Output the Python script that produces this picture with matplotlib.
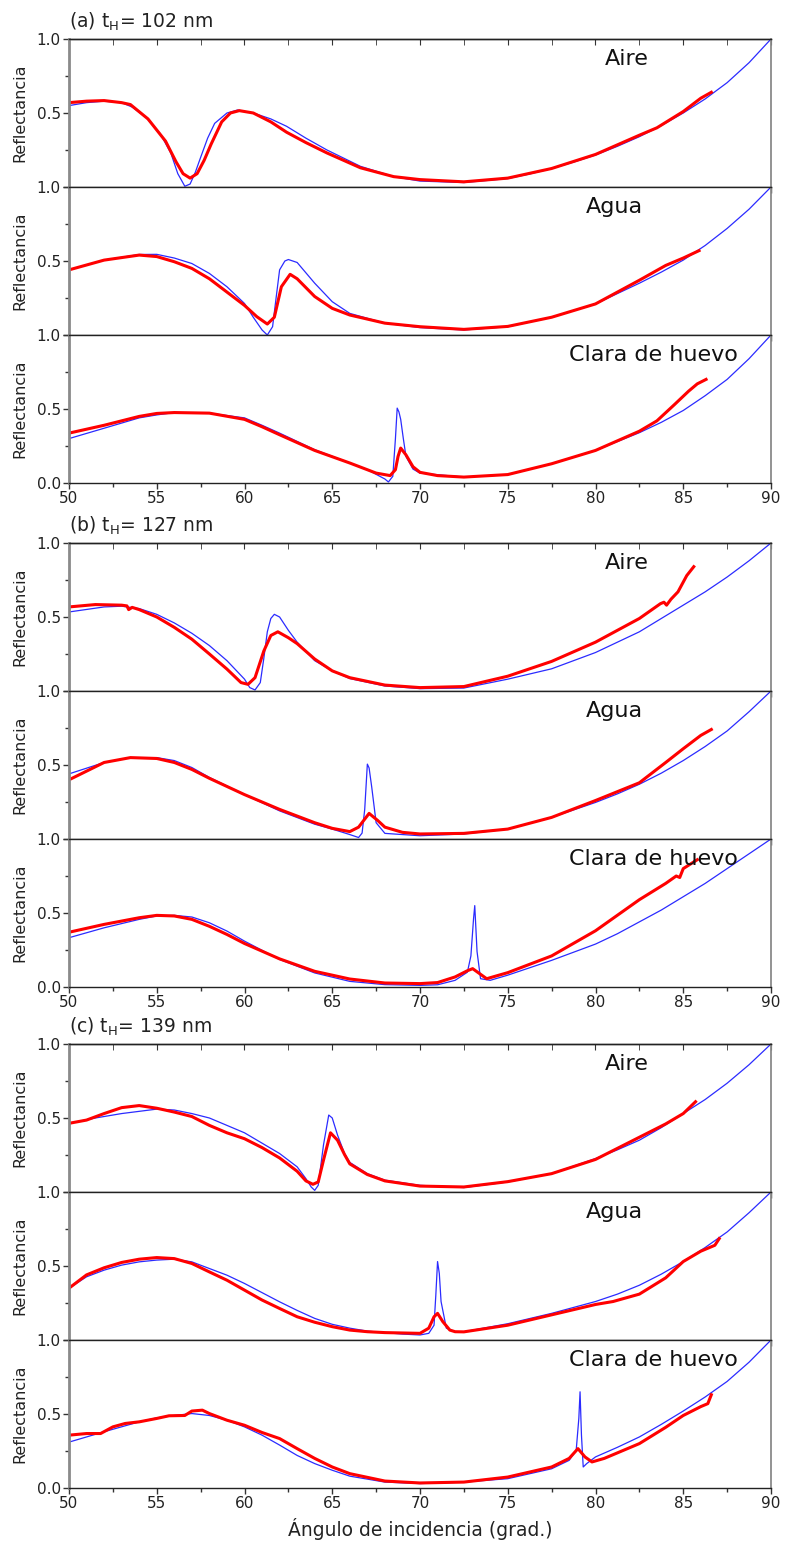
import numpy as np
import matplotlib
matplotlib.use('Agg')
from matplotlib import pyplot as plt

# ---- t_H = 102 nm ----
a_aire_teo_ang = [50, 51, 52, 53, 53.6, 54.4, 55.2, 55.8, 56.2, 56.6, 56.9, 57.2, 57.5, 57.9, 58.3, 59.0, 59.6, 60.5, 61.5, 62.4, 63.5, 64.7, 66.6, 68.5, 70, 72.5, 75, 76.25, 77.5, 78.75, 80, 81.25, 82.5, 83.75, 85, 86.25, 87.5, 88.75, 90]
a_aire_teo_R = [0.55, 0.57, 0.58, 0.57, 0.54, 0.47, 0.36, 0.23, 0.09, 0.005, 0.02, 0.1, 0.2, 0.33, 0.43, 0.5, 0.52, 0.5, 0.46, 0.41, 0.33, 0.25, 0.14, 0.07, 0.04, 0.03, 0.057, 0.088, 0.125, 0.168, 0.216, 0.275, 0.34, 0.415, 0.5, 0.595, 0.705, 0.84, 1.0]
a_aire_exp_ang = [50, 51, 52, 53, 53.5, 54.5, 55.5, 56.1, 56.5, 56.9, 57.3, 57.7, 58.1, 58.7, 59.2, 59.7, 60.5, 61.5, 62.4, 63.5, 64.7, 66.6, 68.5, 70, 72.5, 75, 77.5, 80, 82.5, 83.5, 85, 86, 86.6]
a_aire_exp_R = [0.57, 0.58, 0.584, 0.57, 0.557, 0.46, 0.31, 0.17, 0.09, 0.06, 0.09, 0.18, 0.29, 0.44, 0.5, 0.516, 0.5, 0.44, 0.37, 0.3, 0.23, 0.13, 0.07, 0.05, 0.035, 0.06, 0.125, 0.22, 0.35, 0.4, 0.51, 0.6, 0.64]

a_agua_teo_ang = [50, 52, 54, 55, 56, 57, 58, 59, 60, 60.5, 61, 61.3, 61.6, 61.8, 62, 62.3, 62.5, 63, 64, 65, 66, 68, 70, 72.5, 75, 77.5, 80, 82.5, 83.75, 85, 86.25, 87.5, 88.75, 90]
a_agua_teo_R = [0.44, 0.506, 0.544, 0.545, 0.52, 0.483, 0.416, 0.326, 0.213, 0.12, 0.034, 0.0, 0.056, 0.25, 0.44, 0.5, 0.51, 0.49, 0.35, 0.225, 0.146, 0.08, 0.05, 0.034, 0.056, 0.12, 0.21, 0.35, 0.425, 0.506, 0.605, 0.72, 0.85, 1.0]
a_agua_exp_ang = [50, 52, 54, 55, 56, 57, 58, 59, 60, 60.7, 61.3, 61.7, 62.1, 62.6, 63, 64, 65, 66, 68, 70, 72.5, 75, 77.5, 80, 82.5, 84, 85, 85.9]
a_agua_exp_R = [0.44, 0.506, 0.54, 0.53, 0.495, 0.45, 0.38, 0.29, 0.2, 0.124, 0.074, 0.12, 0.326, 0.41, 0.38, 0.26, 0.18, 0.135, 0.08, 0.056, 0.038, 0.058, 0.12, 0.21, 0.37, 0.47, 0.52, 0.57]

a_clara_teo_ang = [50, 52, 54, 55, 56, 58, 60, 61, 62, 64, 66, 67, 68, 68.2, 68.45, 68.6, 68.7, 68.8, 68.9, 69.05, 69.2, 69.6, 70, 71, 72.5, 75, 77.5, 80, 82.5, 83.75, 85, 86.25, 87.5, 88.75, 90]
a_clara_teo_R = [0.30, 0.37, 0.44, 0.46, 0.476, 0.472, 0.44, 0.39, 0.337, 0.225, 0.135, 0.09, 0.027, 0.007, 0.045, 0.3, 0.506, 0.48, 0.43, 0.3, 0.18, 0.094, 0.067, 0.056, 0.04, 0.056, 0.13, 0.22, 0.34, 0.41, 0.49, 0.59, 0.7, 0.84, 1.0]
a_clara_exp_ang = [50, 52, 54, 55, 56, 58, 60, 61, 62, 64, 66, 67.5, 68.3, 68.6, 68.75, 68.9, 69.2, 69.6, 70, 71, 72.5, 75, 77.5, 80, 82.5, 83.5, 84.5, 85.3, 85.8, 86.3]
a_clara_exp_R = [0.337, 0.39, 0.45, 0.47, 0.476, 0.472, 0.43, 0.38, 0.326, 0.22, 0.135, 0.067, 0.05, 0.09, 0.18, 0.236, 0.19, 0.11, 0.072, 0.05, 0.04, 0.057, 0.13, 0.22, 0.35, 0.42, 0.53, 0.62, 0.67, 0.7]

# ---- t_H = 127 nm ----
b_aire_teo_ang = [50, 52, 53, 54, 55, 56, 57, 58, 59, 60, 60.3, 60.6, 60.9, 61.1, 61.3, 61.5, 61.7, 62, 62.5, 63, 64, 65, 66, 68, 70, 72.5, 75, 77.5, 80, 81.25, 82.5, 83.75, 85, 86.25, 87.5, 88.75, 90]
b_aire_teo_R = [0.534, 0.568, 0.573, 0.557, 0.518, 0.46, 0.39, 0.307, 0.205, 0.08, 0.023, 0.007, 0.057, 0.22, 0.4, 0.49, 0.518, 0.5, 0.41, 0.33, 0.205, 0.136, 0.084, 0.034, 0.016, 0.02, 0.08, 0.15, 0.26, 0.33, 0.4, 0.49, 0.58, 0.67, 0.77, 0.88, 1.0]
b_aire_exp_ang = [50, 51.5, 53, 53.3, 53.4, 53.6, 54, 55, 56, 57, 58, 59, 59.8, 60.2, 60.6, 61.1, 61.5, 61.9, 62.5, 63, 64, 65, 66, 68, 70, 72.5, 75, 77.5, 80, 82.5, 83.7, 83.9, 84.05, 84.3, 84.7, 85.2, 85.6]
b_aire_exp_R = [0.568, 0.584, 0.58, 0.575, 0.55, 0.565, 0.55, 0.5, 0.43, 0.35, 0.25, 0.148, 0.057, 0.045, 0.09, 0.27, 0.375, 0.4, 0.36, 0.32, 0.216, 0.136, 0.09, 0.04, 0.023, 0.03, 0.1, 0.2, 0.33, 0.49, 0.59, 0.6, 0.58, 0.62, 0.67, 0.78, 0.84]

b_agua_teo_ang = [50, 52, 53.5, 55, 56, 57, 58, 60, 62, 64, 65, 66, 66.5, 66.7, 66.85, 67.0, 67.1, 67.25, 67.5, 68, 70, 72.5, 75, 77.5, 80, 81.25, 82.5, 83.75, 85, 86.25, 87.5, 88.75, 90]
b_agua_teo_R = [0.44, 0.517, 0.55, 0.55, 0.53, 0.483, 0.416, 0.3, 0.19, 0.1, 0.067, 0.03, 0.01, 0.04, 0.2, 0.506, 0.48, 0.35, 0.11, 0.038, 0.022, 0.034, 0.067, 0.146, 0.247, 0.305, 0.37, 0.445, 0.53, 0.625, 0.73, 0.86, 1.0]
b_agua_exp_ang = [50, 52, 53.5, 55, 56, 57, 58, 60, 62, 64, 65, 66, 66.5, 67.1, 67.6, 68, 69, 70, 72.5, 75, 77.5, 80, 82.5, 84, 85, 86, 86.6]
b_agua_exp_R = [0.4, 0.517, 0.55, 0.544, 0.517, 0.47, 0.41, 0.3, 0.2, 0.11, 0.072, 0.05, 0.08, 0.173, 0.124, 0.08, 0.045, 0.034, 0.038, 0.067, 0.146, 0.26, 0.38, 0.517, 0.61, 0.7, 0.74]

b_clara_teo_ang = [50, 52, 54, 55, 56, 57, 58, 59, 60, 62, 64, 66, 68, 70, 71, 72, 72.7, 72.9, 73.05, 73.12, 73.25, 73.45, 74, 75, 77.5, 80, 81.25, 82.5, 83.75, 85, 86.25, 87.5, 88.75, 90]
b_clara_teo_R = [0.333, 0.4, 0.457, 0.48, 0.484, 0.473, 0.434, 0.378, 0.31, 0.186, 0.095, 0.038, 0.016, 0.011, 0.015, 0.045, 0.1, 0.21, 0.46, 0.55, 0.24, 0.056, 0.045, 0.08, 0.18, 0.29, 0.36, 0.44, 0.52, 0.61, 0.7, 0.8, 0.9, 1.0]
b_clara_exp_ang = [50, 52, 54, 55, 56, 57, 58, 59, 60, 62, 64, 66, 68, 70, 71, 72, 72.7, 73, 73.4, 73.8, 74.5, 75, 77.5, 80, 82.5, 84, 84.6, 84.8, 85, 85.8]
b_clara_exp_R = [0.37, 0.423, 0.468, 0.484, 0.48, 0.457, 0.41, 0.355, 0.294, 0.19, 0.106, 0.054, 0.027, 0.023, 0.03, 0.068, 0.11, 0.124, 0.09, 0.056, 0.08, 0.097, 0.21, 0.38, 0.59, 0.7, 0.75, 0.74, 0.8, 0.86]

# ---- t_H = 139 nm ----
c_aire_teo_ang = [50, 51.5, 53, 55, 56, 57, 58, 59, 60, 61, 62, 63, 63.5, 63.8, 64.0, 64.2, 64.5, 64.8, 65, 65.3, 65.7, 66, 67, 68, 70, 72.5, 75, 77.5, 80, 81.25, 82.5, 83.75, 85, 86.25, 87.5, 88.75, 90]
c_aire_teo_R = [0.464, 0.5, 0.53, 0.56, 0.554, 0.53, 0.5, 0.45, 0.4, 0.33, 0.26, 0.17, 0.09, 0.034, 0.011, 0.045, 0.317, 0.52, 0.5, 0.385, 0.26, 0.2, 0.124, 0.08, 0.045, 0.03, 0.068, 0.124, 0.226, 0.285, 0.35, 0.435, 0.53, 0.625, 0.735, 0.86, 1.0]
c_aire_exp_ang = [50, 51, 52, 53, 54, 55, 56, 57, 58, 59, 60, 61, 62, 63, 63.5, 63.9, 64.2, 64.5, 64.9, 65.3, 65.7, 66, 67, 68, 70, 72.5, 75, 77.5, 80, 82.5, 84, 85, 85.7]
c_aire_exp_R = [0.464, 0.486, 0.53, 0.57, 0.584, 0.566, 0.54, 0.51, 0.45, 0.4, 0.36, 0.3, 0.23, 0.14, 0.075, 0.052, 0.068, 0.215, 0.4, 0.35, 0.253, 0.19, 0.118, 0.075, 0.04, 0.034, 0.07, 0.124, 0.22, 0.37, 0.46, 0.53, 0.61]

c_agua_teo_ang = [50, 51, 52, 53, 54, 55, 56, 57, 58, 59, 60, 61, 62, 63, 64, 65, 66, 67, 68, 69, 70, 70.5, 70.8, 70.9, 71.0, 71.1, 71.2, 71.5, 72, 72.5, 75, 77.5, 80, 81.25, 82.5, 83.75, 85, 86.25, 87.5, 88.75, 90]
c_agua_teo_R = [0.35, 0.427, 0.472, 0.506, 0.528, 0.54, 0.546, 0.528, 0.483, 0.438, 0.382, 0.32, 0.258, 0.2, 0.146, 0.106, 0.08, 0.06, 0.05, 0.04, 0.034, 0.045, 0.1, 0.3, 0.53, 0.45, 0.26, 0.08, 0.056, 0.056, 0.11, 0.18, 0.26, 0.31, 0.37, 0.445, 0.53, 0.625, 0.73, 0.86, 1.0]
c_agua_exp_ang = [50, 51, 52, 53, 54, 55, 56, 57, 58, 59, 60, 61, 62, 63, 64, 65, 66, 67, 68, 70, 70.5, 70.8, 71.0, 71.3, 71.7, 72, 72.5, 75, 77.5, 80, 81, 82.5, 84, 85, 86, 86.8, 87.05]
c_agua_exp_R = [0.35, 0.44, 0.488, 0.524, 0.546, 0.557, 0.55, 0.517, 0.46, 0.404, 0.337, 0.27, 0.213, 0.157, 0.12, 0.09, 0.067, 0.056, 0.05, 0.045, 0.08, 0.157, 0.18, 0.124, 0.067, 0.056, 0.055, 0.1, 0.17, 0.24, 0.26, 0.31, 0.42, 0.53, 0.6, 0.64, 0.685]

c_clara_teo_ang = [50, 52, 54, 55, 56, 57, 58, 59, 60, 61, 62, 63, 64, 65, 66, 68, 70, 72.5, 75, 77.5, 78.5, 78.9, 79.05, 79.12, 79.2, 79.3, 79.5, 80, 81.25, 82.5, 83.75, 85, 86.25, 87.5, 88.75, 90]
c_clara_teo_R = [0.31, 0.38, 0.447, 0.474, 0.49, 0.503, 0.49, 0.458, 0.413, 0.357, 0.29, 0.22, 0.165, 0.12, 0.08, 0.04, 0.03, 0.04, 0.063, 0.13, 0.187, 0.255, 0.47, 0.65, 0.357, 0.142, 0.165, 0.21, 0.275, 0.345, 0.43, 0.52, 0.615, 0.72, 0.85, 1.0]
c_clara_exp_ang = [50, 51, 51.8, 52.5, 53.2, 54, 55, 55.7, 56.6, 57, 57.6, 58, 59, 60, 61, 62, 63, 64, 65, 66, 68, 70, 72.5, 75, 77.5, 78.5, 79, 79.4, 79.8, 80.5, 82.5, 84, 85, 86, 86.4, 86.6]
c_clara_exp_R = [0.357, 0.368, 0.368, 0.413, 0.436, 0.447, 0.47, 0.488, 0.49, 0.52, 0.526, 0.503, 0.458, 0.424, 0.375, 0.334, 0.266, 0.2, 0.142, 0.097, 0.047, 0.034, 0.04, 0.074, 0.142, 0.2, 0.266, 0.21, 0.176, 0.2, 0.3, 0.41, 0.49, 0.55, 0.57, 0.63]

grupos = [
    ('(a) t$_{\\mathrm{H}}$= 102 nm', 39,
     [(a_aire_teo_ang, a_aire_teo_R, a_aire_exp_ang, a_aire_exp_R),
      (a_agua_teo_ang, a_agua_teo_R, a_agua_exp_ang, a_agua_exp_R),
      (a_clara_teo_ang, a_clara_teo_R, a_clara_exp_ang, a_clara_exp_R)]),
    ('(b) t$_{\\mathrm{H}}$= 127 nm', 543,
     [(b_aire_teo_ang, b_aire_teo_R, b_aire_exp_ang, b_aire_exp_R),
      (b_agua_teo_ang, b_agua_teo_R, b_agua_exp_ang, b_agua_exp_R),
      (b_clara_teo_ang, b_clara_teo_R, b_clara_exp_ang, b_clara_exp_R)]),
    ('(c) t$_{\\mathrm{H}}$= 139 nm', 1044,
     [(c_aire_teo_ang, c_aire_teo_R, c_aire_exp_ang, c_aire_exp_R),
      (c_agua_teo_ang, c_agua_teo_R, c_agua_exp_ang, c_agua_exp_R),
      (c_clara_teo_ang, c_clara_teo_R, c_clara_exp_ang, c_clara_exp_R)]),
]
medios = ['Aire', 'Agua', 'Clara de huevo']
medio_x = [81.8, 81.1, 83.3]

W, H = 785.0, 1541.0
left, width, alto = 69/W, 702/W, 148.0
tick_col = '#333333'

fig = plt.figure(figsize=(7.85, 15.41), dpi=100)

for titulo, top, paneles in grupos:
    fig.text(left, 1-(top-11)/H, titulo, fontsize=13.5, color='#222222', ha='left', va='baseline')
    for k in range(3):
        teo_x, teo_y, exp_x, exp_y = paneles[k]
        y0 = top + k*alto
        ax = fig.add_axes([left, 1-(y0+alto)/H, width, alto/H])
        ax.plot(teo_x, teo_y, color='#2b2bff', lw=0.9)
        ax.plot(exp_x, exp_y, color='#ff0000', lw=2.2, solid_joinstyle='round')
        ax.set_xlim(50, 90)
        ax.set_ylim(0, 1)
        ax.set_xticks(np.arange(50, 91, 5))
        ax.set_xticks(np.arange(52.5, 90, 5), minor=True)
        ax.set_yticks([0, 0.5, 1.0])
        ax.set_yticks([0.25, 0.75], minor=True)
        ax.tick_params(axis='both', which='both', direction='out', colors=tick_col,
                       labelsize=11, width=1.0, length=4, pad=2, labelcolor='#222222')
        ax.tick_params(axis='both', which='minor', length=3)
        if k < 2:
            ax.set_yticklabels(['', '0.5', '1.0'])
            ax.tick_params(axis='x', labelbottom=False)
        else:
            ax.set_yticklabels(['0.0', '0.5', '1.0'])
            ax.set_xticklabels([str(v) for v in range(50, 91, 5)])
        if k == 0:
            sec = ax.secondary_xaxis('top')
            sec.set_xticks(np.arange(50, 91, 5))
            sec.set_xticks(np.arange(52.5, 90, 5), minor=True)
            sec.tick_params(axis='x', which='both', direction='in', length=4,
                            colors=tick_col, labeltop=False)
            sec.spines['top'].set_color('#222222')
            sec.spines['top'].set_linewidth(1.0)
        for s in ['top', 'bottom']:
            ax.spines[s].set_color('#222222')
            ax.spines[s].set_linewidth(1.0)
        ax.spines['left'].set_color('#8a8a8a')
        ax.spines['left'].set_linewidth(2.0)
        ax.spines['right'].set_color('#8a8a8a')
        ax.spines['right'].set_linewidth(1.3)
        ax.set_ylabel('Reflectancia', fontsize=11.5, color='#222222')
        ax.yaxis.set_label_coords(-0.06, 0.5)
        ax.text(medio_x[k], 0.93, medios[k], fontsize=16, color='#111111',
                ha='center', va='top')

fig.text(420/W, 1-1529/H, 'Ángulo de incidencia (grad.)', fontsize=13.5,
         color='#222222', ha='center', va='center')

plt.savefig('out.png', dpi=100)
